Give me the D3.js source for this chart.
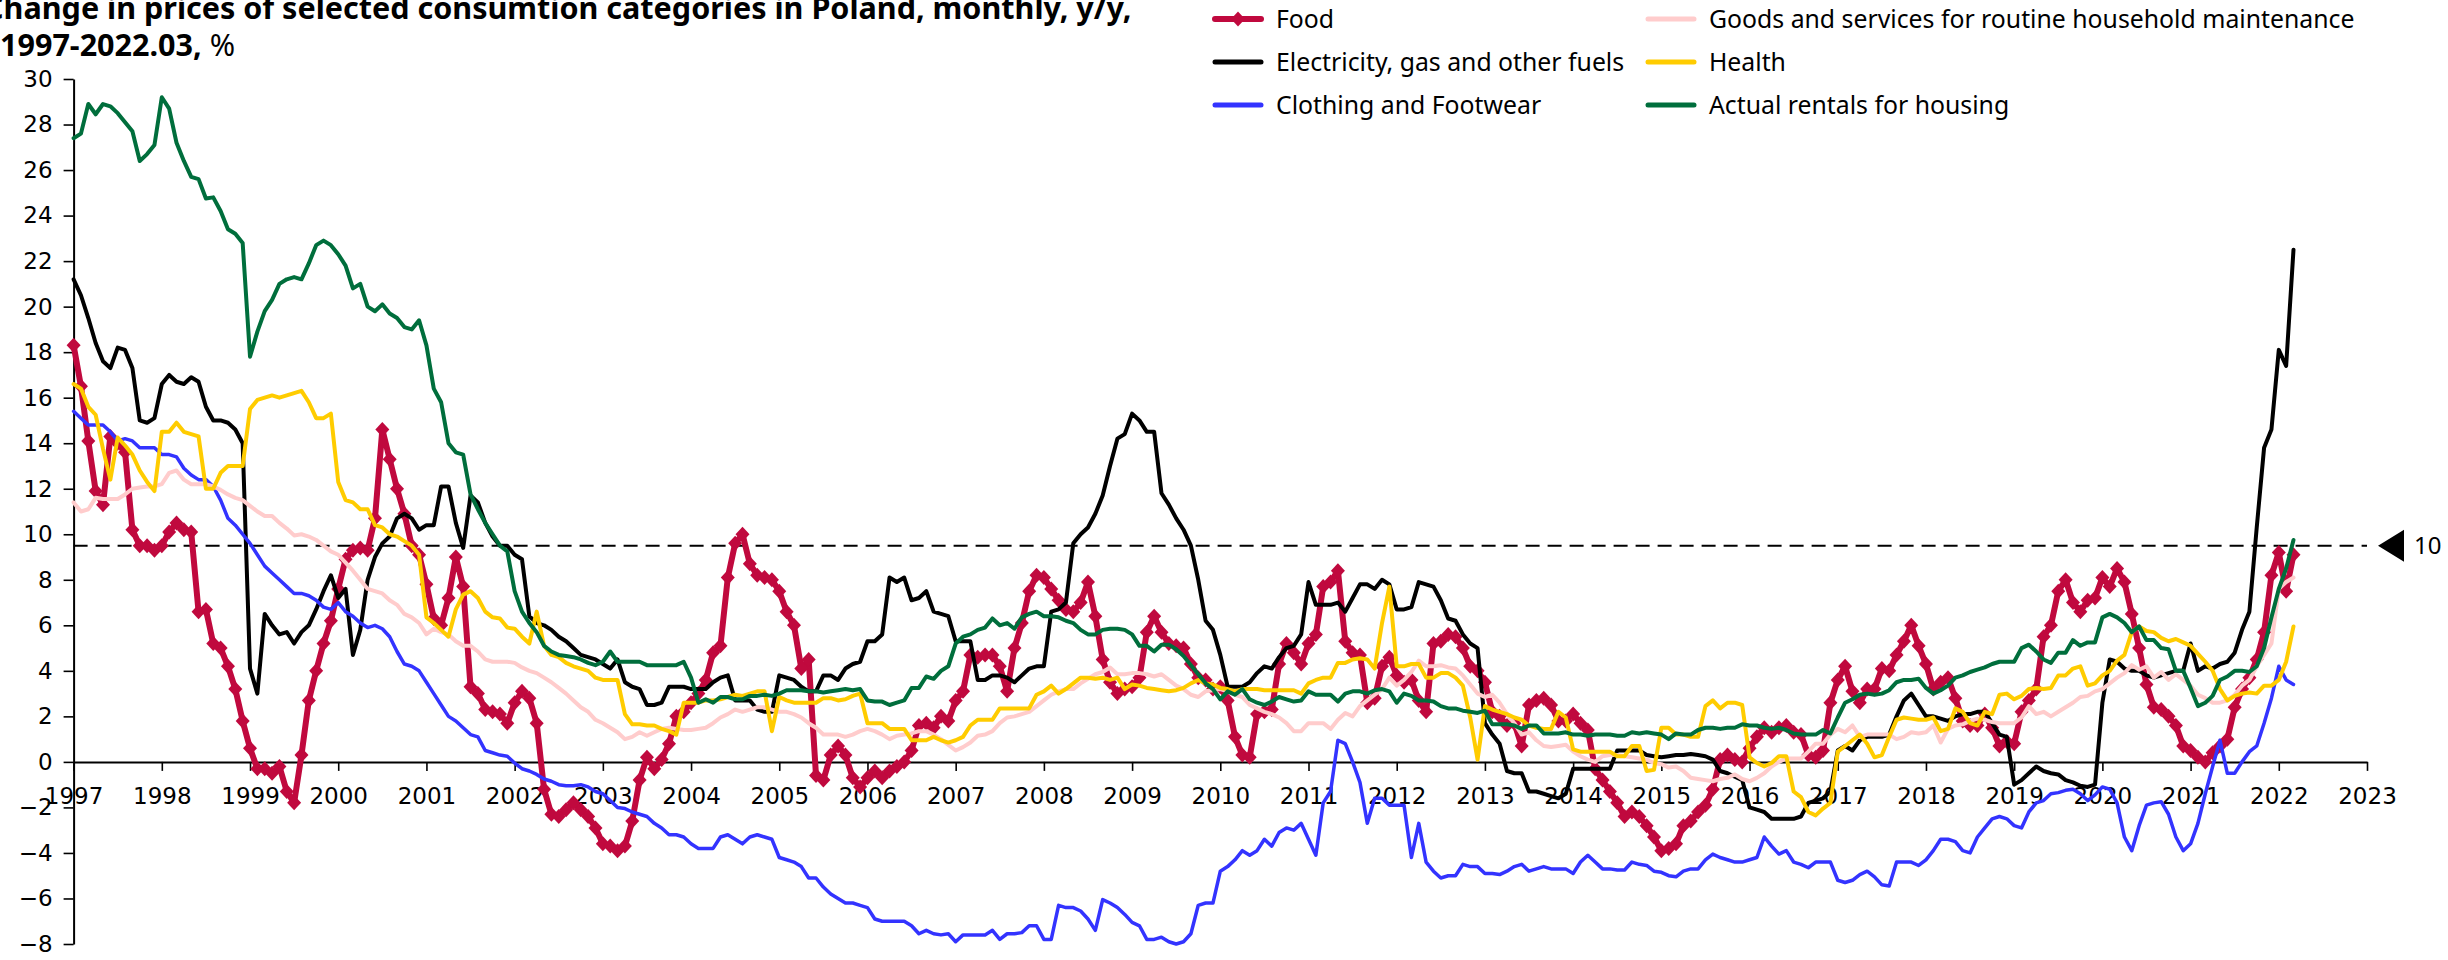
<!DOCTYPE html>
<html><head><meta charset="utf-8">
<script src="https://cdn.jsdelivr.net/npm/d3@7/dist/d3.min.js"></script>
<style>html,body{margin:0;padding:0;background:#fff;}svg{display:block;}</style>
</head><body>
<svg id="chart" width="2448" height="960"></svg>
<script>
// ---------------- DATA (monthly, y/y %, Jan 1997 - Mar 2022) ----------------
const startYear = 1997;
const yearTicks = d3.range(1997, 2024);
const yTicks = d3.range(-8, 31, 2);
const titleLine1 = "Change in prices of selected consumtion categories in Poland, monthly, y/y,";
const titleLine2Bold = "1997-2022.03,";
const titleLine2Rest = " %";
const seriesNames = ["Food", "Electricity, gas and other fuels", "Clothing and Footwear",
  "Goods and services for routine household maintenance", "Health", "Actual rentals for housing"];
const refValue = 9.5;
const refLabel = "10";

const food = [
 18.3,16.5,14.1,11.9,11.3,14.3,14.0,13.6,10.2,9.5,9.5,9.3,
 9.5,10.1,10.5,10.2,10.1,6.6,6.7,5.2,5.0,4.2,3.2,1.8,
 0.6,-0.3,-0.3,-0.5,-0.2,-1.3,-1.8,0.3,2.7,4.0,5.2,6.2,
 7.6,8.9,9.3,9.4,9.3,10.7,14.6,13.3,12.0,10.9,9.5,9.1,
 7.8,6.3,6.0,7.2,9.0,7.7,3.3,3.0,2.3,2.2,2.1,1.7,
 2.6,3.1,2.8,1.7,-1.2,-2.3,-2.4,-2.1,-1.8,-2.1,-2.4,-2.9,
 -3.6,-3.7,-3.9,-3.7,-2.6,-0.8,0.2,-0.3,0.1,0.8,2.0,2.2,
 2.6,3.0,3.6,4.8,5.1,8.1,9.6,10.0,8.7,8.2,8.1,8.0,
 7.5,6.6,6.0,4.1,4.5,-0.6,-0.8,0.3,0.7,0.3,-0.7,-1.1,
 -0.7,-0.4,-0.7,-0.4,-0.2,0.0,0.5,1.6,1.7,1.5,2.0,1.8,
 2.7,3.1,4.7,4.6,4.7,4.7,4.2,3.1,5.0,6.1,7.5,8.2,
 8.1,7.6,7.1,6.7,6.6,7.0,7.9,6.4,4.5,3.5,3.0,3.2,
 3.3,3.7,5.7,6.4,5.7,5.2,5.1,5.0,4.3,3.7,3.6,3.2,
 3.3,2.7,1.1,0.3,0.2,2.1,2.2,2.3,4.3,5.2,4.8,4.3,
 5.2,5.6,7.7,7.9,8.4,5.3,4.8,4.7,2.6,2.8,4.2,4.6,
 3.8,3.5,3.6,2.7,2.2,5.2,5.3,5.6,5.5,5.0,4.2,4.0,
 3.5,2.2,2.0,1.6,1.7,0.7,2.5,2.7,2.8,2.5,1.8,1.8,
 2.1,1.7,1.4,-0.3,-0.8,-1.3,-1.8,-2.4,-2.2,-2.4,-2.8,-3.3,
 -3.9,-3.8,-3.6,-2.8,-2.6,-2.2,-1.9,-1.2,0.1,0.3,0.1,0.0,
 0.6,1.1,1.5,1.3,1.5,1.6,1.3,1.2,0.3,0.2,0.5,2.6,
 3.6,4.2,3.1,2.6,3.2,3.2,4.1,4.0,4.7,5.3,6.0,5.1,
 4.3,3.2,3.5,3.7,2.8,1.8,1.6,1.6,2.1,1.5,0.7,0.9,
 0.8,2.2,2.7,3.2,5.5,6.0,7.5,8.0,7.0,6.6,7.1,7.2,
 8.1,7.7,8.5,7.9,6.5,5.0,3.4,2.4,2.3,2.0,1.6,0.7,
 0.5,0.2,0.0,0.4,0.7,1.0,2.4,3.2,3.7,4.5,5.7,8.2,
 9.2,7.5,9.1
];
const electricity = [
 21.2,20.5,19.5,18.4,17.6,17.3,18.2,18.1,17.3,15.0,14.9,15.1,
 16.6,17.0,16.7,16.6,16.9,16.7,15.6,15.0,15.0,14.9,14.6,14.0,
 4.1,3.0,6.5,6.0,5.6,5.7,5.2,5.7,6.0,6.7,7.5,8.2,
 7.2,7.6,4.7,5.8,8.0,9.0,9.6,9.9,10.7,10.9,10.7,10.2,
 10.4,10.4,12.1,12.1,10.5,9.4,11.7,11.4,10.5,9.9,9.5,9.5,
 9.1,8.9,6.4,6.1,6.0,5.8,5.5,5.3,5.0,4.7,4.6,4.5,
 4.3,4.1,4.5,3.5,3.3,3.2,2.5,2.5,2.6,3.3,3.3,3.3,
 3.2,3.2,3.2,3.5,3.7,3.8,2.7,2.7,2.7,2.3,2.2,2.2,
 3.8,3.7,3.6,3.3,3.1,3.1,3.8,3.8,3.6,4.1,4.3,4.4,
 5.3,5.3,5.6,8.1,7.9,8.1,7.1,7.2,7.5,6.6,6.5,6.4,
 5.3,5.3,5.3,3.6,3.6,3.8,3.8,3.7,3.5,3.8,4.1,4.2,
 4.2,6.6,6.7,7.0,9.6,10.0,10.3,10.9,11.7,13.0,14.2,14.4,
 15.3,15.0,14.5,14.5,11.8,11.3,10.7,10.2,9.5,8.0,6.2,5.8,
 4.7,3.3,3.3,3.3,3.5,3.9,4.2,4.1,4.6,5.0,5.1,5.6,
 7.9,6.9,6.9,6.9,7.0,6.6,7.2,7.8,7.8,7.6,8.0,7.8,
 6.7,6.7,6.8,7.9,7.8,7.7,7.1,6.3,6.2,5.6,5.2,5.0,
 1.7,1.2,0.8,-0.4,-0.5,-0.5,-1.3,-1.3,-1.4,-1.5,-1.6,-1.4,
 -0.3,-0.3,-0.3,-0.3,-0.3,-0.3,0.5,0.5,0.5,0.5,0.3,0.25,
 0.2,0.25,0.3,0.3,0.35,0.3,0.25,0.1,-0.4,-0.5,-0.65,-0.8,
 -2.0,-2.1,-2.2,-2.5,-2.5,-2.5,-2.5,-2.4,-1.8,-1.7,-1.6,-1.3,
 0.5,0.7,0.5,0.95,1.1,1.1,1.1,1.2,2.0,2.7,3.0,2.5,
 2.0,2.0,1.9,1.8,2.0,2.1,2.1,2.2,2.2,1.7,1.2,1.1,
 -1.0,-0.8,-0.5,-0.2,-0.4,-0.5,-0.55,-0.8,-0.9,-1.05,-1.1,-1.0,
 2.6,4.5,4.4,4.1,4.0,4.0,3.8,3.7,3.8,3.9,4.0,4.0,
 5.2,4.0,4.2,4.1,4.3,4.4,4.8,5.8,6.6,10.3,13.8,14.6,
 18.1,17.4,22.5
];
const clothing = [
 15.4,15.1,14.8,14.8,14.8,14.5,14.1,14.2,14.1,13.8,13.8,13.8,
 13.5,13.5,13.4,12.9,12.6,12.4,12.4,12.1,11.5,10.7,10.4,10.0,
 9.6,9.1,8.6,8.3,8.0,7.7,7.4,7.4,7.3,7.1,6.8,6.7,
 7.0,6.6,6.4,6.1,5.9,6.0,5.85,5.5,4.85,4.3,4.2,4.0,
 3.5,3.0,2.5,2.0,1.8,1.5,1.2,1.1,0.5,0.4,0.3,0.25,
 -0.05,-0.3,-0.4,-0.55,-0.75,-0.85,-1.0,-1.05,-1.05,-1.0,-1.1,-1.3,
 -1.4,-1.7,-2.0,-2.05,-2.2,-2.3,-2.4,-2.7,-2.9,-3.2,-3.2,-3.3,
 -3.6,-3.8,-3.8,-3.8,-3.3,-3.2,-3.4,-3.6,-3.3,-3.2,-3.3,-3.4,
 -4.2,-4.3,-4.4,-4.6,-5.1,-5.1,-5.5,-5.8,-6.0,-6.2,-6.2,-6.3,
 -6.4,-6.9,-7.0,-7.0,-7.0,-7.0,-7.2,-7.55,-7.4,-7.55,-7.6,-7.55,
 -7.9,-7.6,-7.6,-7.6,-7.6,-7.4,-7.8,-7.55,-7.55,-7.5,-7.2,-7.2,
 -7.8,-7.8,-6.3,-6.4,-6.4,-6.55,-6.9,-7.4,-6.05,-6.2,-6.4,-6.7,
 -7.05,-7.2,-7.8,-7.8,-7.7,-7.9,-8.0,-7.9,-7.55,-6.3,-6.2,-6.2,
 -4.8,-4.6,-4.3,-3.9,-4.1,-3.9,-3.4,-3.7,-3.1,-2.9,-3.0,-2.7,
 -3.4,-4.1,-1.8,-1.3,0.95,0.8,0.0,-0.9,-2.7,-1.6,-1.6,-1.9,
 -1.9,-1.9,-4.2,-2.7,-4.4,-4.8,-5.1,-5.0,-5.0,-4.5,-4.6,-4.6,
 -4.9,-4.9,-4.95,-4.8,-4.6,-4.5,-4.8,-4.7,-4.6,-4.7,-4.7,-4.7,
 -4.9,-4.4,-4.1,-4.4,-4.7,-4.7,-4.75,-4.75,-4.4,-4.5,-4.55,-4.8,
 -4.85,-5.0,-5.05,-4.8,-4.7,-4.7,-4.3,-4.05,-4.2,-4.3,-4.4,-4.4,
 -4.3,-4.2,-3.3,-3.7,-4.05,-3.9,-4.4,-4.5,-4.65,-4.4,-4.4,-4.4,
 -5.2,-5.3,-5.2,-4.95,-4.8,-5.05,-5.4,-5.45,-4.4,-4.4,-4.4,-4.55,
 -4.3,-3.9,-3.4,-3.4,-3.5,-3.9,-4.0,-3.3,-2.9,-2.5,-2.4,-2.5,
 -2.8,-2.9,-2.2,-1.8,-1.7,-1.4,-1.35,-1.25,-1.2,-1.4,-1.7,-1.45,
 -1.1,-1.2,-1.8,-3.3,-3.9,-2.8,-1.9,-1.8,-1.75,-2.3,-3.3,-3.9,
 -3.6,-2.7,-1.4,-0.2,0.95,-0.5,-0.5,0.0,0.45,0.7,1.7,2.8,
 4.2,3.6,3.4
];
const household = [
 11.4,11.0,11.1,11.6,11.55,11.55,11.55,11.75,12.0,12.05,12.1,12.1,
 12.2,12.7,12.8,12.4,12.2,12.2,12.2,12.1,11.95,11.75,11.6,11.5,
 11.25,11.0,10.8,10.8,10.5,10.25,9.95,10.0,9.9,9.75,9.5,9.25,
 9.1,8.75,8.4,8.0,7.6,7.5,7.4,7.1,6.9,6.5,6.35,6.1,
 5.6,5.85,5.7,5.6,5.3,5.1,5.1,4.85,4.5,4.4,4.4,4.4,
 4.35,4.15,4.0,3.9,3.7,3.5,3.25,3.0,2.7,2.4,2.2,1.85,
 1.7,1.5,1.3,1.0,1.1,1.3,1.15,1.3,1.45,1.5,1.45,1.4,
 1.4,1.45,1.5,1.7,1.95,2.1,2.3,2.2,2.3,2.4,2.4,2.3,
 2.2,2.2,2.1,1.95,1.7,1.5,1.2,1.2,1.2,1.1,1.2,1.35,
 1.45,1.35,1.2,1.0,1.15,1.2,1.25,1.35,1.35,1.2,1.0,0.75,
 0.5,0.65,0.85,1.15,1.2,1.35,1.7,1.95,2.0,2.1,2.2,2.45,
 2.7,2.95,3.1,3.2,3.2,3.45,3.65,3.85,3.95,4.15,3.85,3.85,
 3.9,3.9,3.85,3.75,3.85,3.6,3.35,3.2,2.95,2.85,3.1,3.15,
 3.2,3.1,2.95,2.85,2.5,2.35,2.2,2.1,1.95,1.7,1.35,1.35,
 1.7,1.7,1.7,1.45,1.85,2.15,2.0,2.45,2.7,2.95,3.2,3.7,
 3.35,3.6,3.95,4.45,4.2,4.2,4.25,4.15,4.1,3.8,3.4,3.0,
 2.85,2.95,2.6,2.1,1.7,1.2,1.3,0.95,0.7,0.65,0.7,0.75,
 0.45,0.25,0.1,0.0,0.25,0.3,0.3,0.25,0.2,0.15,0.1,-0.05,
 -0.1,-0.25,-0.2,-0.4,-0.7,-0.75,-0.8,-0.85,-0.75,-0.7,-0.55,-0.75,
 -0.85,-0.7,-0.5,-0.2,0.0,0.15,0.15,0.15,0.45,0.8,0.8,1.2,
 1.45,1.3,1.6,1.1,1.2,1.2,1.2,1.2,1.0,1.1,1.3,1.25,
 1.3,1.6,0.85,1.45,1.6,1.65,1.8,1.9,1.85,1.75,1.7,1.7,
 1.7,1.95,2.45,2.1,2.2,2.0,2.2,2.4,2.6,2.85,2.9,3.1,
 3.2,3.45,3.7,3.9,4.25,4.05,4.2,3.7,3.95,3.6,3.85,3.6,
 3.35,2.95,2.8,2.6,2.6,2.7,2.95,3.35,3.6,4.2,4.7,5.2,
 7.6,7.9,8.1
];
const health = [
 16.6,16.4,15.6,15.25,13.75,12.4,14.25,13.9,13.5,12.8,12.3,11.9,
 14.5,14.5,14.9,14.5,14.4,14.3,12.0,12.0,12.7,13.0,13.0,13.0,
 15.5,15.9,16.0,16.1,16.0,16.1,16.2,16.3,15.8,15.1,15.1,15.3,
 12.3,11.5,11.4,11.1,11.1,10.4,10.3,10.0,9.9,9.7,9.5,9.1,
 6.35,6.1,5.8,5.5,6.7,7.35,7.5,7.2,6.6,6.35,6.3,5.9,
 5.85,5.5,5.2,6.6,5.1,4.7,4.6,4.35,4.2,4.1,4.0,3.7,
 3.6,3.6,3.6,2.1,1.65,1.65,1.6,1.6,1.45,1.35,1.2,2.6,
 2.6,2.6,2.7,2.7,2.75,2.85,2.95,2.9,3.0,3.1,3.1,1.35,
 2.85,2.7,2.6,2.6,2.6,2.6,2.8,2.8,2.7,2.75,2.9,3.0,
 1.7,1.7,1.7,1.45,1.45,1.45,0.95,0.95,0.95,1.1,0.95,0.85,
 0.95,1.1,1.6,1.85,1.85,1.85,2.35,2.35,2.35,2.35,2.35,2.95,
 3.1,3.35,3.0,3.2,3.45,3.7,3.7,3.65,3.7,3.6,3.7,3.2,
 3.4,3.35,3.25,3.2,3.15,3.1,3.15,3.25,3.45,3.6,3.45,3.4,
 3.25,3.2,3.1,3.2,3.2,3.2,3.15,3.15,3.15,3.15,3.15,3.0,
 3.45,3.6,3.7,3.7,4.35,4.35,4.5,4.55,4.5,4.1,6.1,7.7,
 4.2,4.2,4.3,4.3,3.7,3.7,3.9,3.9,3.7,3.35,1.95,0.1,
 2.45,2.3,2.2,2.1,1.95,1.85,1.6,1.5,1.45,1.45,2.2,1.95,
 0.55,0.45,0.45,0.45,0.45,0.45,0.25,0.25,0.7,0.7,-0.4,-0.35,
 1.5,1.5,1.2,1.2,1.1,1.1,2.45,2.7,2.35,2.6,2.6,2.5,
 0.2,-0.05,-0.2,-0.05,0.25,0.25,-1.3,-1.55,-2.2,-2.35,-2.05,-1.8,
 0.45,0.7,0.95,1.2,0.8,0.2,0.3,1.1,1.85,1.95,1.9,1.85,
 1.85,1.95,1.35,1.45,2.35,2.2,1.7,1.6,2.2,2.1,2.95,3.0,
 2.75,2.9,3.2,3.25,3.2,3.25,3.8,3.8,4.1,4.2,3.35,3.45,
 3.8,4.0,4.45,4.7,5.7,5.95,5.75,5.7,5.45,5.3,5.4,5.25,
 5.1,4.75,4.4,4.0,3.2,2.7,2.9,3.0,3.05,3.0,3.35,3.35,
 3.6,4.4,5.95
];
const rentals = [
 27.4,27.6,28.9,28.45,28.9,28.8,28.5,28.1,27.7,26.4,26.7,27.1,
 29.2,28.7,27.2,26.4,25.7,25.6,24.75,24.8,24.2,23.4,23.2,22.8,
 17.8,18.9,19.8,20.3,21.0,21.2,21.3,21.2,21.9,22.7,22.9,22.7,
 22.3,21.8,20.8,21.0,20.0,19.8,20.1,19.7,19.5,19.1,19.0,19.4,
 18.3,16.4,15.8,14.0,13.6,13.5,11.75,11.1,10.5,10.0,9.5,9.25,
 7.5,6.6,6.1,5.7,5.1,4.85,4.7,4.65,4.6,4.5,4.35,4.25,
 4.4,4.85,4.4,4.4,4.4,4.4,4.25,4.25,4.25,4.25,4.25,4.4,
 3.7,2.6,2.75,2.6,2.85,2.85,2.75,2.75,2.9,2.9,2.95,2.9,
 3.0,3.15,3.15,3.15,3.1,3.1,3.05,3.1,3.15,3.2,3.15,3.2,
 2.7,2.65,2.65,2.5,2.6,2.7,3.25,3.25,3.75,3.65,4.0,4.2,
 5.2,5.5,5.6,5.8,5.9,6.3,6.0,6.1,5.85,6.35,6.5,6.6,
 6.4,6.4,6.35,6.2,6.1,5.8,5.6,5.6,5.8,5.85,5.85,5.8,
 5.6,5.1,5.1,4.85,5.15,5.15,4.95,4.65,4.25,3.85,3.45,3.2,
 2.75,3.1,2.95,3.2,2.75,2.6,2.5,2.65,2.85,2.75,2.65,2.7,
 3.1,2.95,2.95,2.95,2.65,3.0,3.1,3.1,3.0,3.15,3.2,3.1,
 2.6,3.0,2.9,2.7,2.7,2.65,2.45,2.35,2.35,2.25,2.2,2.15,
 2.25,1.65,1.65,1.65,1.6,1.45,1.6,1.6,1.25,1.25,1.25,1.3,
 1.2,1.2,1.15,1.2,1.2,1.2,1.15,1.15,1.3,1.25,1.3,1.25,
 1.2,1.0,1.25,1.2,1.2,1.4,1.5,1.5,1.45,1.5,1.5,1.65,
 1.6,1.6,1.5,1.45,1.5,1.4,1.25,1.2,1.2,1.2,1.4,1.25,
 1.95,2.6,2.75,2.95,3.0,2.95,3.0,3.15,3.5,3.6,3.6,3.65,
 3.25,3.0,3.15,3.35,3.7,3.8,3.95,4.05,4.15,4.3,4.4,4.4,
 4.4,5.0,5.15,4.85,4.5,4.35,4.8,4.8,5.35,5.1,5.25,5.25,
 6.35,6.5,6.35,6.1,5.7,5.95,5.35,5.35,5.0,4.95,4.0,4.0,
 3.25,2.45,2.6,2.9,3.6,3.75,4.0,4.0,3.95,4.2,5.0,6.35,
 7.6,8.5,9.75
];

// ---------------- STYLE / LAYOUT ----------------
const seriesValues = [food, electricity, clothing, household, health, rentals];
const colors = ["#C0093E", "#000000", "#3333FF", "#FFCCCC", "#FFCC00", "#006E3C"];
const widths = [6, 4, 3.5, 4, 4, 4];

const svg = d3.select("#chart");
svg.append("rect").attr("width", 2448).attr("height", 960).attr("fill", "#fff");

const x = d3.scaleLinear().domain([1997, 2023]).range([73.6, 2367]);
const y = d3.scaleLinear().domain([-8, 30]).range([944, 79]);

const AXIS_FONT = "'DejaVu Sans', Verdana, sans-serif";
const TEXT_FONT = "'Noto Sans', 'Open Sans', sans-serif";

// Y axis
const yAx = svg.append("g").attr("transform", `translate(${x(1997)},0)`)
  .call(d3.axisLeft(y).tickValues(yTicks).tickSize(10).tickSizeOuter(0).tickPadding(11).tickFormat(d3.format("d")));
yAx.select(".domain").attr("stroke", "#000").attr("stroke-width", 2);
yAx.selectAll(".tick line").attr("stroke", "#000").attr("stroke-width", 1.6);
yAx.selectAll(".tick text").attr("font-family", AXIS_FONT).attr("font-size", 23).attr("fill", "#000");

// X axis at y = 0
const xAx = svg.append("g").attr("transform", `translate(0,${y(0)})`)
  .call(d3.axisBottom(x).tickValues(yearTicks).tickSize(9).tickSizeOuter(0).tickPadding(17).tickFormat(d3.format("d")));
xAx.select(".domain").attr("stroke", "#000").attr("stroke-width", 2);
xAx.selectAll(".tick line").attr("stroke", "#000").attr("stroke-width", 1.6);
xAx.selectAll(".tick text").attr("font-family", AXIS_FONT).attr("font-size", 23).attr("fill", "#000");

// reference dashed line
svg.append("line")
  .attr("x1", x(1997)).attr("x2", x(2023))
  .attr("y1", y(refValue)).attr("y2", y(refValue))
  .attr("stroke", "#000").attr("stroke-width", 2).attr("stroke-dasharray", "14,8");

// series lines
const pts = vals => vals.map((v, i) => ({ t: startYear + i / 12, v }));
const line = d3.line().x(d => x(d.t)).y(d => y(d.v));
const diamond = "M0,-7.5L7,0L0,7.5L-7,0Z";

seriesValues.forEach((vals, k) => {
  const data = pts(vals);
  svg.append("path").datum(data)
    .attr("d", line).attr("fill", "none")
    .attr("stroke", colors[k]).attr("stroke-width", widths[k])
    .attr("stroke-linejoin", "round").attr("stroke-linecap", "round");
  if (k === 0) {
    svg.append("g").selectAll("path").data(data).join("path")
      .attr("d", diamond)
      .attr("transform", d => `translate(${x(d.t)},${y(d.v)})`)
      .attr("fill", colors[0]);
  }
});

// reference marker: triangle + label
const ry = y(refValue);
svg.append("path")
  .attr("d", `M2378,${ry}L2404,${ry - 16}L2404,${ry + 16}Z`)
  .attr("fill", "#000");
svg.append("text").attr("x", 2414).attr("y", ry).attr("dy", "0.35em")
  .attr("font-family", TEXT_FONT).attr("font-size", 24).attr("fill", "#000").text(refLabel);

// legend
const legendPos = [
  [1215, 19], [1215, 62], [1215, 105],
  [1648, 19], [1648, 62], [1648, 105]
];
const lg = svg.append("g");
seriesNames.forEach((name, k) => {
  const [lx, ly] = legendPos[k];
  lg.append("line").attr("x1", lx).attr("x2", lx + 46).attr("y1", ly).attr("y2", ly)
    .attr("stroke", colors[k]).attr("stroke-width", k === 0 ? 6 : 5).attr("stroke-linecap", "round");
  if (k === 0) lg.append("path").attr("d", diamond).attr("transform", `translate(${lx + 23},${ly})`).attr("fill", colors[0]);
  lg.append("text").attr("class", "lgt").attr("x", lx + 61).attr("y", ly).attr("dy", "0.35em")
    .attr("font-family", TEXT_FONT).attr("font-size", 22).attr("fill", "#000").text(name);
});
// fit legend font so the longest label matches reference width
const longest = lg.selectAll(".lgt").filter((d, i) => i === 3).node();
const lw = longest.getComputedTextLength();
const lfs = 22 * 646 / lw;
lg.selectAll(".lgt").attr("font-size", lfs);

// title
const t1 = svg.append("text").attr("x", -16).attr("y", 19)
  .attr("font-family", TEXT_FONT).attr("font-weight", "bold").attr("font-size", 28).attr("fill", "#000")
  .text(titleLine1);
const w1 = t1.node().getComputedTextLength();
const tfs = 28 * 1148 / w1;
t1.attr("font-size", tfs);
const t2 = svg.append("text").attr("x", 0).attr("y", 56)
  .attr("font-family", TEXT_FONT).attr("font-size", tfs).attr("fill", "#000");
t2.append("tspan").attr("font-weight", "bold").text(titleLine2Bold);
t2.append("tspan").attr("font-weight", "normal").text(titleLine2Rest);
</script>
</body></html>
